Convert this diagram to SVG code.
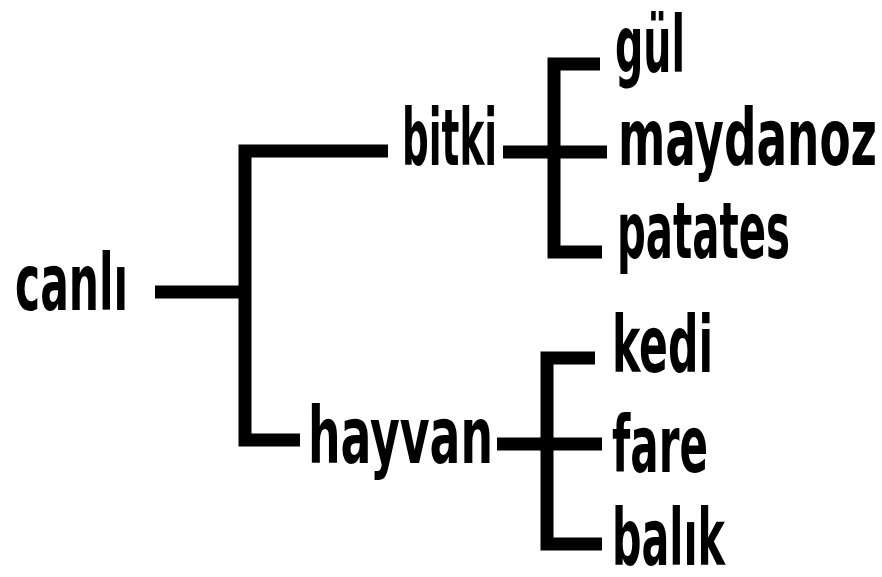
<svg xmlns="http://www.w3.org/2000/svg" width="882" height="577" viewBox="0 0 882 577">
<style>
.t{font-family:"DejaVu Sans Condensed","Liberation Sans Narrow","Liberation Sans",Arial,sans-serif;font-weight:bold;font-size:79px;fill:#000}
.c{fill:none;stroke:#000;stroke-width:13;stroke-linejoin:miter;stroke-linecap:butt}
</style>
<rect width="882" height="577" fill="#fff"/>
<g id="connectors">
<path class="c" d="M155,292 H245"/>
<path class="c" d="M388,151 H245 V440 H300"/>
<path class="c" d="M503,152 H607"/>
<path class="c" d="M600,64 H554 V252 H602"/>
<path class="c" d="M497,444 H602"/>
<path class="c" d="M595,358 H547 V544 H602"/>
</g>
<g id="canli"><text class="t" x="15" y="310" textLength="113" lengthAdjust="spacingAndGlyphs">canlı</text></g>
<g id="bitki"><text class="t" x="402" y="165" textLength="95" lengthAdjust="spacingAndGlyphs">bitki</text></g>
<g id="hayvan"><text class="t" x="308" y="463" textLength="185" lengthAdjust="spacingAndGlyphs">hayvan</text></g>
<g id="gul"><text class="t" x="615" y="72" textLength="70" lengthAdjust="spacingAndGlyphs">gül</text></g>
<g id="maydanoz"><text class="t" x="618" y="165" textLength="259" lengthAdjust="spacingAndGlyphs">maydanoz</text></g>
<g id="patates"><text class="t" x="617" y="258" textLength="173" lengthAdjust="spacingAndGlyphs">patates</text></g>
<g id="kedi"><text class="t" x="612" y="372" textLength="101" lengthAdjust="spacingAndGlyphs">kedi</text></g>
<g id="fare"><text class="t" x="612" y="472" textLength="96" lengthAdjust="spacingAndGlyphs">fare</text></g>
<g id="balik"><text class="t" x="612" y="565" textLength="113" lengthAdjust="spacingAndGlyphs">balık</text></g>
</svg>
